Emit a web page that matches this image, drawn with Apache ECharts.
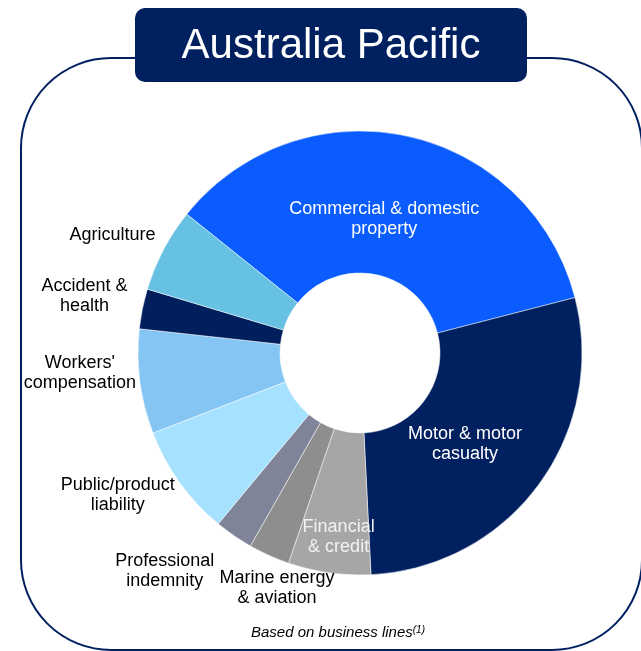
<!DOCTYPE html>
<html>
<head>
<meta charset="utf-8">
<script src="https://cdn.jsdelivr.net/npm/echarts@6/dist/echarts.min.js"></script>
<style>
  html, body { margin: 0; padding: 0; background: #fff; }
  #chart { width: 641px; height: 651px; }
</style>
</head>
<body>
<div id="chart"></div>
<script>
// business lines, clockwise from the top-left
const categories = [
  'Commercial & domestic\nproperty',
  'Motor & motor\ncasualty',
  'Financial\n& credit',
  'Marine energy\n& aviation',
  'Professional\nindemnity',
  'Public/product\nliability',
  "Workers'\ncompensation",
  'Accident &\nhealth',
  'Agriculture'
]
const shares = [35.2, 28.2, 6.0, 3.0, 2.8, 8.1, 7.6, 2.9, 6.1]

const colors = ['#0a5cff', '#002060', '#a6a6a6', '#8e8e8e', '#7f8499',
  '#a6e2ff', '#84c5f4', '#001f5c', '#66c1e3']
const insideLabels = [true, true, true, false, false, false, false, false, false]
// small label shifts [dx, dy] from where echarts puts them
const labelNudge = [[-8, 17], [-19, 0], [0, 32], [13, 33], [-64, 35],
  [-57, 12], [-55, -9], [-53, -13], [-46, -15]]

const font = '"Liberation Sans", Arial, sans-serif'

const chart = echarts.init(document.getElementById('chart'))

const option = {
  backgroundColor: '#fff',
  animation: false,
  graphic: [
    {
      type: 'rect',
      z: 1,
      shape: { x: 21, y: 58, width: 621, height: 592, r: 90 },
      style: { fill: 'none', stroke: '#002060', lineWidth: 2 }
    },
    {
      type: 'rect',
      z: 2,
      shape: { x: 135, y: 8, width: 392, height: 74, r: 10 },
      style: { fill: '#002060' }
    },
    {
      type: 'text',
      z: 3,
      x: 331,
      y: 46,
      style: {
        text: 'Australia Pacific',
        fill: '#fff',
        font: '42px ' + font,
        align: 'center',
        verticalAlign: 'middle'
      }
    },
    {
      type: 'text',
      z: 3,
      x: 338,
      y: 633,
      style: {
        text: '{a|Based on business lines}{s|(1)}',
        align: 'center',
        verticalAlign: 'middle',
        rich: {
          a: { fontSize: 15, fontStyle: 'italic', fontFamily: font, fill: '#000' },
          s: { fontSize: 10, fontStyle: 'italic', fontFamily: font, fill: '#000', verticalAlign: 'top' }
        }
      }
    }
  ],
  series: [
    {
      type: 'pie',
      center: [360, 353],
      radius: [80, 222],
      startAngle: 141.3,
      avoidLabelOverlap: false,
      emphasis: { scale: false },
      label: {
        position: 'outside',
        color: '#000',
        fontSize: 18,
        lineHeight: 20,
        fontFamily: font
      },
      labelLine: { show: false, length: 0, length2: 0 },
      labelLayout: function (p) {
        const n = labelNudge[p.dataIndex]
        if (!n) return {}
        return insideLabels[p.dataIndex]
          ? { dx: n[0], dy: n[1] }
          : { align: 'center', dx: n[0], dy: n[1] }
      },
      itemStyle: { borderColor: '#fff', borderWidth: 0.5 },
      data: categories.map((name, i) => ({
        name: name,
        value: shares[i],
        itemStyle: { color: colors[i] },
        label: insideLabels[i]
          ? { position: 'inside', color: i === 2 ? '#f2f2f2' : '#fff' }
          : {}
      }))
    }
  ]
}

chart.setOption(option)
</script>
</body>
</html>
